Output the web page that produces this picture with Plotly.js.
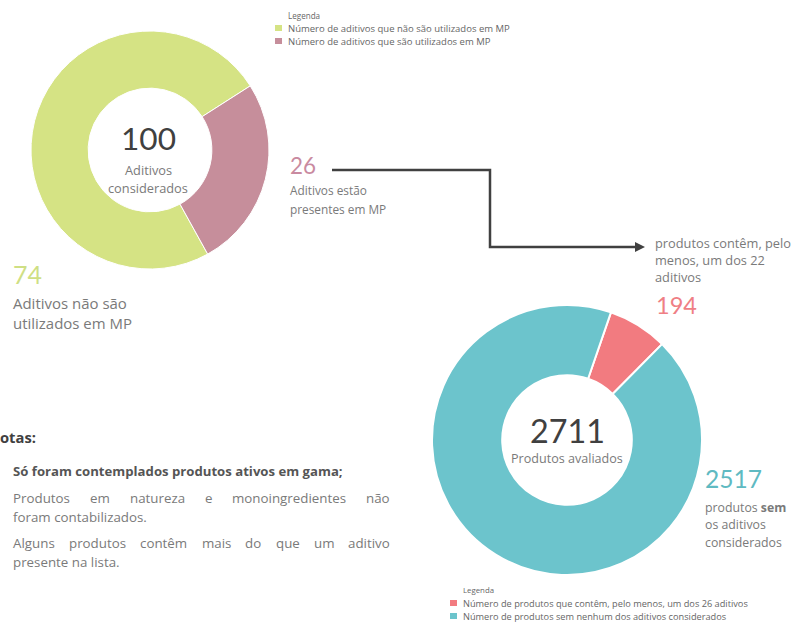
<!DOCTYPE html>
<html>
<head>
<meta charset="utf-8">
<script src="https://cdn.plot.ly/plotly-3.0.1.min.js"></script>
<style>html,body{margin:0;padding:0;background:#fff;}#chart{width:804px;height:626px;}</style>
</head>
<body>
<div id="chart"></div>
<script>
// ---- data ----
const additiveLabels = ["Número de aditivos que não são utilizados em MP", "Número de aditivos que são utilizados em MP"];
const additiveValues = [74, 26];
const additiveTotal = 100;
const productLabels = ["Número de produtos que contêm, pelo menos, um dos 26 aditivos", "Número de produtos sem nenhum dos aditivos considerados"];
const productValues = [194, 2517];
const productTotal = 2711;
const notesTitle = "Notas:";
const notes = [
  "Só foram contemplados produtos ativos em gama;",
  "Produtos em natureza e monoingredientes não",
  "foram contabilizados.",
  "Alguns produtos contêm mais do que um aditivo",
  "presente na lista."
];

const W = 804, H = 626;
const px = x => x / W;
const py = y => 1 - y / H;
const NUMF = "Lato";
const TXTF = "Open Sans";
const GRAY = "#7a7a7a";
const DARK = "#404040";
const cGreen = "#d5e384", cMauve = "#c68e9b", cRed = "#f27b80", cTeal = "#6cc4cc";
const cGreenTxt = "#cfdf84", cMauveTxt = "#c98aa0", cRedTxt = "#ef7f85", cTealTxt = "#5fbac2";

// text measuring helpers (for fitting sizes and justifying)
const ctx = document.createElement("canvas").getContext("2d");
function textW(t, size, bold, fam) {
  ctx.font = (bold ? "bold " : "") + size + "px '" + fam + "'";
  return ctx.measureText(t).width;
}
function fit(t, w, bold, fam) { return 100 * w / textW(t, 100, bold, fam); }

const traces = [
  {
    type: "pie", hole: 0.52, sort: false, direction: "clockwise", rotation: 151,
    labels: additiveLabels, values: additiveValues, textinfo: "none", hoverinfo: "label+value",
    marker: {colors: [cGreen, cMauve], line: {color: "#ffffff", width: 1}},
    domain: {x: [px(31), px(269)], y: [py(269), py(31)]}
  },
  {
    type: "pie", hole: 0.48, sort: false, direction: "clockwise", rotation: 19,
    labels: productLabels, values: productValues, textinfo: "none", hoverinfo: "label+value",
    marker: {colors: [cRed, cTeal], line: {color: "#ffffff", width: 2}},
    domain: {x: [px(432), px(702)], y: [py(575), py(305)]}
  }
];

function ann(text, x, y, size, color, opts, fam, bold) {
  return Object.assign({
    text: bold ? "<b>" + text + "</b>" : text, x: px(x), y: py(y), xref: "paper", yref: "paper",
    showarrow: false, xanchor: "left", yanchor: "middle", borderpad: 0, borderwidth: 0,
    font: {family: fam || TXTF, size: size, color: color}
  }, opts || {});
}
const C = {xanchor: "center"};

const annotations = [];
// numbers
annotations.push(ann(String(additiveTotal), 148, 138, fit(String(additiveTotal), 55, false, NUMF), DARK, C, NUMF));
annotations.push(ann(String(productTotal), 567, 430, fit(String(productTotal), 75, false, NUMF), DARK, C, NUMF));
annotations.push(ann(String(additiveValues[1]), 290, 165, fit(String(additiveValues[1]), 26, false, NUMF), cMauveTxt, null, NUMF));
annotations.push(ann(String(additiveValues[0]), 13, 274, fit(String(additiveValues[0]), 29, false, NUMF), cGreenTxt, null, NUMF));
annotations.push(ann(String(productValues[0]), 656, 305, fit(String(productValues[0]), 41, false, NUMF), cRedTxt, null, NUMF));
annotations.push(ann(String(productValues[1]), 705, 478, fit(String(productValues[1]), 57, false, NUMF), cTealTxt, null, NUMF));

// center labels
const s1 = fit("considerados", 80, false, TXTF);
annotations.push(ann("Aditivos", 148, 170, s1, GRAY, C));
annotations.push(ann("considerados", 148, 188, s1, GRAY, C));
annotations.push(ann("Produtos avaliados", 567, 458, fit("Produtos avaliados", 112, false, TXTF), GRAY, C));

// 26 block
const s26 = (fit("Aditivos estão", 82, false, TXTF) + fit("presentes em MP", 90, false, TXTF)) / 2;
annotations.push(ann("Aditivos estão", 290, 190, s26, GRAY));
annotations.push(ann("presentes em MP", 290, 209, s26, GRAY));
// 74 block
const s74 = fit("Aditivos não são", 114, false, TXTF);
annotations.push(ann("Aditivos não são", 13, 303, s74, GRAY));
annotations.push(ann("utilizados em MP", 13, 323, s74, GRAY));
// 194 block
const s194 = fit("produtos contêm, pelo", 136, false, TXTF);
annotations.push(ann("produtos contêm, pelo", 655, 243, s194, GRAY));
annotations.push(ann("menos, um dos 22", 655, 260, s194, GRAY));
annotations.push(ann("aditivos", 655, 277, s194, GRAY));
// 2517 block
const s2517 = fit("considerados", 77, false, TXTF);
annotations.push(ann("produtos <b>sem</b>", 705, 507, s2517, GRAY));
annotations.push(ann("os aditivos", 705, 524, s2517, GRAY));
annotations.push(ann("considerados", 705, 542, s2517, GRAY));

// notes (the title is partly cut by the left edge, as in the original)
annotations.push(ann(notesTitle, 36, 437, fit("otas:", 36, true, TXTF), DARK, {xanchor: "right"}, TXTF, true));
const sN = fit(notes[2], 134, false, TXTF);
annotations.push(ann(notes[0], 13, 471, fit(notes[0], 330, true, TXTF), "#555555", null, TXTF, true));
function justify(line, x0, x1, y, size, color) {
  const words = line.split(" ");
  const widths = words.map(w => textW(w, size, false, TXTF));
  const total = widths.reduce((a, b) => a + b, 0);
  const gap = (x1 - x0 - total) / (words.length - 1);
  let x = x0;
  words.forEach((w, i) => { annotations.push(ann(w, x, y, size, color)); x += widths[i] + gap; });
}
justify(notes[1], 13, 390, 498, sN, GRAY);
annotations.push(ann(notes[2], 13, 517, sN, GRAY));
justify(notes[3], 13, 390, 543, sN, GRAY);
annotations.push(ann(notes[4], 13, 562, sN, GRAY));

// legends (drawn from the label arrays)
const shapes = [];
function legend(title, labels, colors, x, yTitle, yItems, size) {
  annotations.push(ann(title, x, yTitle, size * 0.85, "#666666"));
  labels.forEach((lab, i) => {
    annotations.push(ann(lab, x, yItems[i], size, "#666666"));
    shapes.push({type: "rect", xref: "paper", yref: "paper", x0: px(x - 13), x1: px(x - 6),
      y0: py(yItems[i] + 3), y1: py(yItems[i] - 3), fillcolor: colors[i], line: {width: 0}});
  });
}
legend("Legenda", additiveLabels, [cGreen, cMauve], 288, 15, [28, 41], fit(additiveLabels[0], 222, false, TXTF));
legend("Legenda", productLabels, [cRed, cTeal], 463, 590, [603, 616], fit(productLabels[0], 285, false, TXTF));

// connector arrow
shapes.push({type: "path", xref: "paper", yref: "paper",
  path: `M ${px(332)} ${py(170)} L ${px(490)} ${py(170)} L ${px(490)} ${py(247)} L ${px(638)} ${py(247)}`,
  line: {color: DARK, width: 2.5}});
annotations.push({x: px(645), y: py(247), ax: px(610), ay: py(247), xref: "paper", yref: "paper",
  axref: "paper", ayref: "paper", text: "", showarrow: true, arrowhead: 2, arrowsize: 1,
  arrowwidth: 2, arrowcolor: DARK});

const layout = {
  width: W, height: H,
  margin: {l: 0, r: 0, t: 0, b: 0},
  paper_bgcolor: "#ffffff", plot_bgcolor: "#ffffff",
  font: {family: TXTF, color: GRAY},
  showlegend: false,
  annotations: annotations,
  shapes: shapes
};

Plotly.newPlot("chart", traces, layout, {displayModeBar: false, staticPlot: true});
</script>
</body>
</html>
